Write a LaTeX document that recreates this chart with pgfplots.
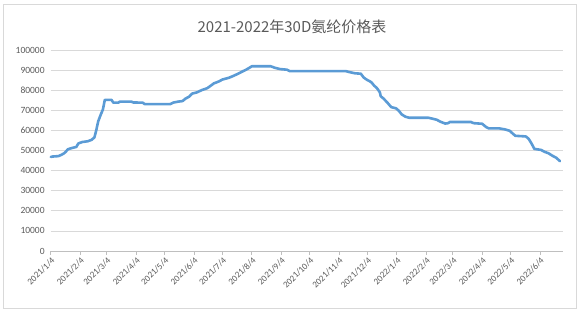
\documentclass[border=0pt]{standalone}
\usepackage{fontspec}
\setmainfont{Carlito}
\newfontfamily\cjk{Noto Sans CJK SC}
\usepackage{pgfplots}
\pgfplotsset{compat=1.18}
\definecolor{linecol}{HTML}{5B9BD5}
\definecolor{txt}{HTML}{595959}
\definecolor{gridc}{HTML}{D9D9D9}
\definecolor{axc}{HTML}{BFBFBF}
\begin{document}
\begin{tikzpicture}[x=1pt,y=1pt]
\useasboundingbox (0,0) rectangle (581,313);
\draw[gridc, line width=0.75pt] (3.5,4.5) rectangle (576.5,308.5);
\node[text=txt, font=\cjk\fontsize{15}{17}\selectfont] at (292,286) {2021-2022年30D氨纶价格表};
\begin{axis}[
  at={(50.8pt,62pt)}, anchor=origin,
  scale only axis, width=512pt, height=201pt,
  xmin=0, xmax=540, ymin=0, ymax=100000,
  axis lines*=left,
  y axis line style={draw=none},
  x axis line style={draw=axc, line width=0.75pt},
  ytick={0,10000,...,100000},
  ymajorgrids, grid style={draw=gridc, line width=0.75pt},
  ytick style={draw=none},
  xtick={0,31,59,90,120,151,181,212,243,273,304,334,365,396,424,455,485,516},
  xticklabels={2021/1/4,2021/2/4,2021/3/4,2021/4/4,2021/5/4,2021/6/4,2021/7/4,2021/8/4,2021/9/4,2021/10/4,2021/11/4,2021/12/4,2022/1/4,2022/2/4,2022/3/4,2022/4/4,2022/5/4,2022/6/4},
  xtick align=outside, major tick length=4pt,
  xtick style={draw=axc, line width=0.75pt},
  xticklabel style={rotate=45, anchor=north east, inner sep=1pt, font=\fontsize{9}{10}\selectfont, text=txt},
  yticklabel style={font=\fontsize{9.5}{10}\selectfont, text=txt, inner sep=0pt, xshift=-6pt},
  /pgf/number format/fixed,
  /pgf/number format/precision=0,
  /pgf/number format/assume math mode=true,
  /pgf/number format/set thousands separator={},
  scaled y ticks=false,
  clip=false,
]
\addplot[linecol, line width=2.6pt, line join=round, line cap=round] coordinates {
(0,46800) (2,47000) (8,47200) (11,47800) (14,48600) (16,49500) (18,50600)
(22,51200) (27,51800) (29,53500) (33,54200) (39,54600) (43,55300) (46,56500)
(48,60200) (50,64500) (52,67000) (55,70500) (57,75200) (64,75200) (66,73800)
(71,73800) (73,74300) (85,74300) (87,73900) (97,73800) (99,73100) (126,73100)
(129,73800) (134,74300) (139,74600) (142,75800) (146,76800) (149,78300)
(154,78900) (159,80000) (165,81000) (168,82000) (172,83400) (177,84300)
(181,85300) (188,86200) (193,87200) (198,88300) (202,89300) (206,90200)
(210,91300) (212,91900) (232,91900) (236,91200) (242,90500) (249,90200)
(252,89500) (311,89500) (315,89000) (321,88400) (327,88200) (330,86300)
(333,85300) (338,84000) (341,82300) (344,81000) (347,79000) (348,77000)
(351,75800) (355,73800) (359,71600) (364,71000) (367,69800) (370,68000)
(374,66800) (378,66300) (398,66300) (402,65900) (407,65300) (411,64300)
(416,63400) (419,63600) (421,64200) (443,64200) (446,63600) (455,63300)
(459,61700) (462,61000) (473,61000) (479,60500) (484,59800) (487,58500)
(490,57300) (501,57000) (504,55800) (507,53500) (510,50800) (517,50300)
(521,49300) (525,48600) (529,47400) (533,46400) (537,44700)
};
\end{axis}
\end{tikzpicture}
\end{document}
